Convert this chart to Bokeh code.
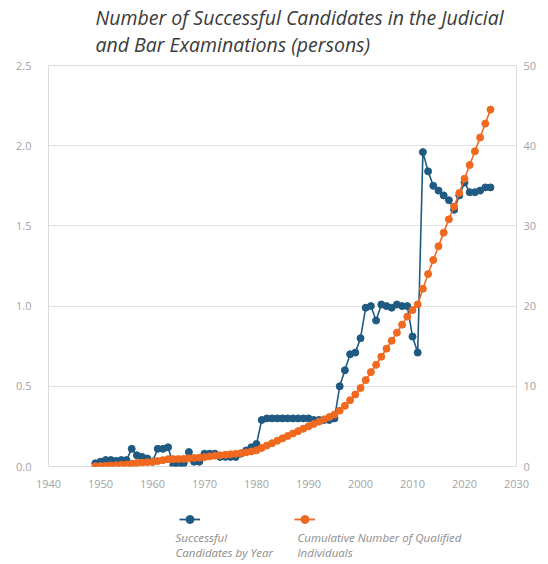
from bokeh.plotting import figure
from bokeh.layouts import column
from bokeh.models import (Range1d, LinearAxis, FixedTicker, Label, Legend,
                          LegendItem, PrintfTickFormatter)
from bokeh.embed import file_html
from bokeh.resources import INLINE

# ---------------- data ----------------
years = list(range(1949, 2026))

# successful candidates by year (thousands of persons, left axis)
successful = [
    0.02, 0.03, 0.04, 0.04, 0.035, 0.04, 0.04, 0.11, 0.07, 0.06,   # 1949-1958
    0.05, 0.03, 0.11, 0.11, 0.12, 0.01, 0.01, 0.02, 0.09, 0.03,    # 1959-1968
    0.03, 0.08, 0.08, 0.08, 0.06, 0.06, 0.06, 0.06, 0.08, 0.10,    # 1969-1978
    0.12, 0.14, 0.29, 0.30, 0.30, 0.30, 0.30, 0.30, 0.30, 0.30,    # 1979-1988
    0.30, 0.30, 0.29, 0.29, 0.29, 0.29, 0.30, 0.50, 0.60, 0.70,    # 1989-1998
    0.71, 0.80, 0.99, 1.00, 0.91, 1.01, 1.00, 0.99, 1.01, 1.00,    # 1999-2008
    1.00, 0.81, 0.71, 1.96, 1.84, 1.75, 1.72, 1.69, 1.66, 1.60,    # 2009-2018
    1.69, 1.77, 1.71, 1.71, 1.72, 1.74, 1.74,                      # 2019-2025
]

# cumulative number of qualified individuals (thousands, right axis)
cumulative = [
    0.02, 0.05, 0.09, 0.13, 0.17, 0.21, 0.25, 0.36, 0.43, 0.49,    # 1949-1958
    0.54, 0.57, 0.68, 0.79, 0.91, 0.92, 0.93, 0.95, 1.04, 1.07,    # 1959-1968
    1.10, 1.18, 1.26, 1.34, 1.40, 1.46, 1.52, 1.58, 1.66, 1.76,    # 1969-1978
    1.88, 2.02, 2.31, 2.61, 2.91, 3.21, 3.51, 3.81, 4.11, 4.41,    # 1979-1988
    4.71, 5.01, 5.30, 5.59, 5.88, 6.17, 6.47, 6.97, 7.57, 8.27,    # 1989-1998
    8.98, 9.78, 10.77, 11.77, 12.68, 13.69, 14.69, 15.68, 16.69, 17.69,  # 1999-2008
    18.69, 19.50, 20.21, 22.16, 24.00, 25.75, 27.47, 29.16, 30.82, 32.42,  # 2009-2018
    34.11, 35.88, 37.59, 39.30, 41.02, 42.76, 44.50,               # 2019-2025
]

x_ticks = [1940, 1950, 1960, 1970, 1980, 1990, 2000, 2010, 2020, 2030]
left_ticks = [0.0, 0.5, 1.0, 1.5, 2.0, 2.5]
right_ticks = [0, 10, 20, 30, 40, 50]

title_lines = ["Number of Successful Candidates in the Judicial",
               "and Bar Examinations (persons)"]
legend_texts = [["Successful", "Candidates by Year"],
                ["Cumulative Number of Qualified", "Individuals"]]

# ---------------- styling ----------------
BLUE = "#1f5a82"
ORANGE = "#f0691f"
FONT = "Open Sans"
TICK_COLOR = "#a3a3a3"
GRID_COLOR = "#e2e2e2"
LEGEND_TEXT_COLOR = "#8c8c8c"
TITLE_COLOR = "#3a3a3a"
W = 546


def strip(height):
    f = figure(width=W, height=height, output_backend="svg",
               toolbar_location=None, x_range=Range1d(0, 1),
               y_range=Range1d(0, 1), x_axis_type=None, y_axis_type=None,
               min_border=0)
    f.outline_line_color = None
    f.background_fill_color = "white"
    f.border_fill_color = "white"
    return f


# ---------------- title strip ----------------
tf = strip(58)
for t, y in [(title_lines[0], 41), (title_lines[1], 14)]:
    tf.add_layout(Label(x=47, y=y, x_units="screen", y_units="screen",
                        text=t, text_font=FONT, text_font_style="italic",
                        text_font_size="19.5px", text_color=TITLE_COLOR,
                        text_baseline="middle", text_align="left"))

# ---------------- main chart ----------------
p = figure(width=W, height=438, output_backend="svg", toolbar_location=None,
           x_range=Range1d(1940, 2030), y_range=Range1d(0, 2.5),
           min_border_left=48, min_border_right=30, min_border_top=7,
           min_border_bottom=30)
p.extra_y_ranges = {"cum": Range1d(0, 50)}
p.background_fill_color = "white"
p.border_fill_color = "white"
p.outline_line_color = "#dcdcdc"

right_axis = LinearAxis(y_range_name="cum")
p.add_layout(right_axis, "right")

p.xaxis.ticker = FixedTicker(ticks=x_ticks)
p.yaxis[0].ticker = FixedTicker(ticks=left_ticks)
p.yaxis[0].formatter = PrintfTickFormatter(format="%.1f")
right_axis.ticker = FixedTicker(ticks=right_ticks)

for ax in [p.xaxis[0], p.yaxis[0], right_axis]:
    ax.axis_line_color = None
    ax.major_tick_line_color = None
    ax.minor_tick_line_color = None
    ax.major_tick_out = 0
    ax.major_tick_in = 0
    ax.minor_tick_out = 0
    ax.minor_tick_in = 0
    ax.major_label_text_font = FONT
    ax.major_label_text_font_size = "11px"
    ax.major_label_text_color = TICK_COLOR

p.yaxis[0].major_label_standoff = 17
right_axis.major_label_standoff = 7
p.xaxis.major_label_standoff = 13

p.xgrid.visible = False
p.ygrid.grid_line_color = GRID_COLOR
p.ygrid.grid_line_width = 1

bl = p.line(years, successful, line_color=BLUE, line_width=1.6)
bs = p.scatter(years, successful, size=7, fill_color=BLUE, line_color=BLUE)
ol = p.line(years, cumulative, line_color=ORANGE, line_width=1.6,
            y_range_name="cum")
os_ = p.scatter(years, cumulative, size=7, fill_color=ORANGE,
                line_color=ORANGE, y_range_name="cum")

# ---------------- legend strip (glyph above text) ----------------
lf = strip(66)
lbl = lf.line(years, successful, line_color=BLUE, line_width=1.8, visible=False)
lbs = lf.scatter(years, successful, size=7, fill_color=BLUE, line_color=BLUE,
                 visible=False)
lol = lf.line(years, cumulative, line_color=ORANGE, line_width=1.8,
              visible=False)
los = lf.scatter(years, cumulative, size=7, fill_color=ORANGE,
                 line_color=ORANGE, visible=False)

for vx, rs in [(131, [lbl, lbs]), (246, [lol, los])]:
    lg = Legend(items=[LegendItem(label=" ", renderers=rs)],
                location=(vx, 33), orientation="horizontal",
                glyph_width=21, glyph_height=20, label_height=20,
                padding=0, margin=0, spacing=0, label_standoff=0,
                border_line_color=None, background_fill_alpha=0,
                label_text_font_size="11px")
    lf.add_layout(lg)

for vx, lines in [(127, legend_texts[0]), (249, legend_texts[1])]:
    for i, t in enumerate(lines):
        lf.add_layout(Label(x=vx, y=25 - 15 * i, x_units="screen",
                            y_units="screen", text=t, text_font=FONT,
                            text_font_style="italic", text_font_size="11.5px",
                            text_color=LEGEND_TEXT_COLOR,
                            text_baseline="middle", text_align="left"))

layout = column(tf, p, lf, spacing=0)
open("out.html", "w").write(file_html(layout, INLINE))
